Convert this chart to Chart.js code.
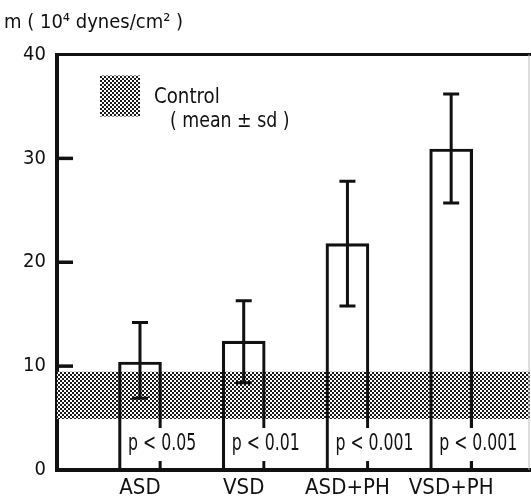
<!DOCTYPE html>
<html>
<head>
<meta charset="utf-8">
<script src="https://cdn.jsdelivr.net/npm/chart.js@4/dist/chart.umd.min.js"></script>
<style>
  html, body { margin: 0; padding: 0; background: #fff; }
  #wrap { width: 531px; height: 497px; }
</style>
</head>
<body>
<div id="wrap"><canvas id="shear"></canvas></div>
<script>
// values (10^4 dynes/cm2)
const groups = ['ASD', 'VSD', 'ASD+PH', 'VSD+PH'];
const means = [10.4, 12.4, 21.8, 30.9];
const sdLow = [6.9, 8.4, 15.8, 25.7];
const sdHigh = [14.2, 16.3, 27.8, 36.2];
const pValues = ['p < 0.05', 'p < 0.01', 'p < 0.001', 'p < 0.001'];
const controlBand = [4.9, 9.45]; // control mean - sd, mean + sd
const yTicks = [0, 10, 20, 30, 40];

const FONT = "'Liberation Sans Narrow', 'DejaVu Sans Condensed', 'Liberation Sans', sans-serif";
const INK = '#111';
const X_MIN = -0.8, X_MAX = 3.76;

Chart.defaults.font.family = FONT;
Chart.defaults.color = INK;

// dotted screen used for the control band
function screenPattern() {
  const c = document.createElement('canvas');
  c.width = 4; c.height = 4;
  const g = c.getContext('2d');
  g.fillStyle = '#fff';
  g.fillRect(0, 0, 4, 4);
  g.fillStyle = '#1a1a1a';
  g.fillRect(0, 0, 2, 2);
  g.fillRect(2, 2, 2, 2);
  return g.createPattern(c, 'repeat');
}
const screen = screenPattern();

// squeezed text, to get closer to the narrow typeface of the figure
function narrowText(ctx, text, x, y, squeeze) {
  ctx.save();
  ctx.translate(x, y);
  ctx.scale(squeeze, 1);
  ctx.fillText(text, 0, 0);
  ctx.restore();
}

const decorations = {
  id: 'decorations',
  afterDatasetsDraw(chart) {
    const { ctx, chartArea: a, scales: { x, y } } = chart;
    ctx.save();
    ctx.strokeStyle = INK;
    ctx.fillStyle = INK;

    // top frame line and faint right edge
    ctx.lineWidth = 3;
    ctx.beginPath();
    ctx.moveTo(a.left, a.top);
    ctx.lineTo(a.right + 1, a.top);
    ctx.stroke();
    ctx.strokeStyle = '#bbb';
    ctx.lineWidth = 1;
    ctx.beginPath();
    ctx.moveTo(a.right - 1, a.top);
    ctx.lineTo(a.right - 1, a.bottom);
    ctx.stroke();
    ctx.strokeStyle = INK;

    // inward tick marks
    ctx.lineWidth = 3.5;
    yTicks.slice(1, -1).forEach(v => {
      const py = y.getPixelForValue(v);
      ctx.beginPath();
      ctx.moveTo(a.left, py);
      ctx.lineTo(a.left + 16, py);
      ctx.stroke();
    });

    // error bars
    ctx.lineWidth = 3;
    groups.forEach((g, i) => {
      const px = x.getPixelForValue(i);
      const lo = y.getPixelForValue(sdLow[i]);
      const hi = y.getPixelForValue(sdHigh[i]);
      ctx.beginPath();
      ctx.moveTo(px, lo);
      ctx.lineTo(px, hi);
      ctx.moveTo(px - 8, lo);
      ctx.lineTo(px + 8, lo);
      ctx.moveTo(px - 8, hi);
      ctx.lineTo(px + 8, hi);
      ctx.stroke();
    });

    // p-values on a white patch
    ctx.font = '23px ' + FONT;
    ctx.textBaseline = 'middle';
    ctx.textAlign = 'left';
    pValues.forEach((p, i) => {
      const px = x.getPixelForValue(i) - 12;
      const py = y.getPixelForValue(2.5);
      const w = ctx.measureText(p).width * 0.76;
      ctx.fillStyle = '#fff';
      ctx.fillRect(px - 3, py - 16, w + 6, 33);
      ctx.fillStyle = INK;
      narrowText(ctx, p, px, py, 0.76);
    });

    // legend
    ctx.fillStyle = screen;
    ctx.fillRect(a.left + 43, a.top + 21, 40, 41);
    ctx.fillStyle = INK;
    ctx.font = '22px ' + FONT;
    narrowText(ctx, 'Control', a.left + 97, a.top + 43, 0.92);
    ctx.font = '21px ' + FONT;
    narrowText(ctx, '( mean ± sd )', a.left + 113, a.top + 67, 0.92);
    ctx.restore();
  }
};

new Chart(document.getElementById('shear'), {
  data: {
    datasets: [
      {
        type: 'bar',
        data: groups.map((g, i) => ({ x: i, y: means[i] })),
        backgroundColor: 'rgba(0,0,0,0)',
        borderColor: INK,
        borderWidth: { top: 2.5, left: 2.5, right: 2.5, bottom: 0 },
        barThickness: 43,
        order: 1
      },
      {
        type: 'line',
        data: [{ x: X_MIN, y: controlBand[1] }, { x: X_MAX, y: controlBand[1] }],
        fill: { target: { value: controlBand[0] } },
        backgroundColor: screen,
        borderWidth: 0,
        pointRadius: 0,
        order: 2
      }
    ]
  },
  options: {
    responsive: true,
    maintainAspectRatio: false,
    animation: false,
    layout: { padding: { left: 4, right: 1, top: 0, bottom: 0 } },
    plugins: {
      legend: { display: false },
      tooltip: { enabled: false },
      title: {
        display: true,
        text: 'm ( 10⁴ dynes/cm² )',
        align: 'start',
        color: INK,
        font: { size: 20, weight: 'normal', lineHeight: 1.2 },
        padding: { top: 11, bottom: 19.5 }
      }
    },
    scales: {
      x: {
        type: 'linear',
        min: X_MIN,
        max: X_MAX,
        offset: false,
        grid: { display: false, drawTicks: false, tickLength: 0 },
        border: { display: true, color: INK, width: 4 },
        afterBuildTicks: s => { s.ticks = groups.map((g, i) => ({ value: i })); },
        afterFit: s => { s.height = 27; },
        ticks: {
          callback: v => groups[v],
          font: { size: 22 },
          color: INK,
          padding: 5,
          maxRotation: 0,
          autoSkip: false
        }
      },
      y: {
        type: 'linear',
        min: 0,
        max: 40,
        grid: { display: false, drawTicks: false, tickLength: 0 },
        border: { display: true, color: INK, width: 4 },
        afterBuildTicks: s => { s.ticks = yTicks.map(v => ({ value: v })); },
        afterFit: s => { s.width = 53; },
        ticks: {
          font: { size: 20 },
          color: INK,
          padding: 11
        }
      }
    }
  },
  plugins: [decorations]
});
</script>
</body>
</html>
